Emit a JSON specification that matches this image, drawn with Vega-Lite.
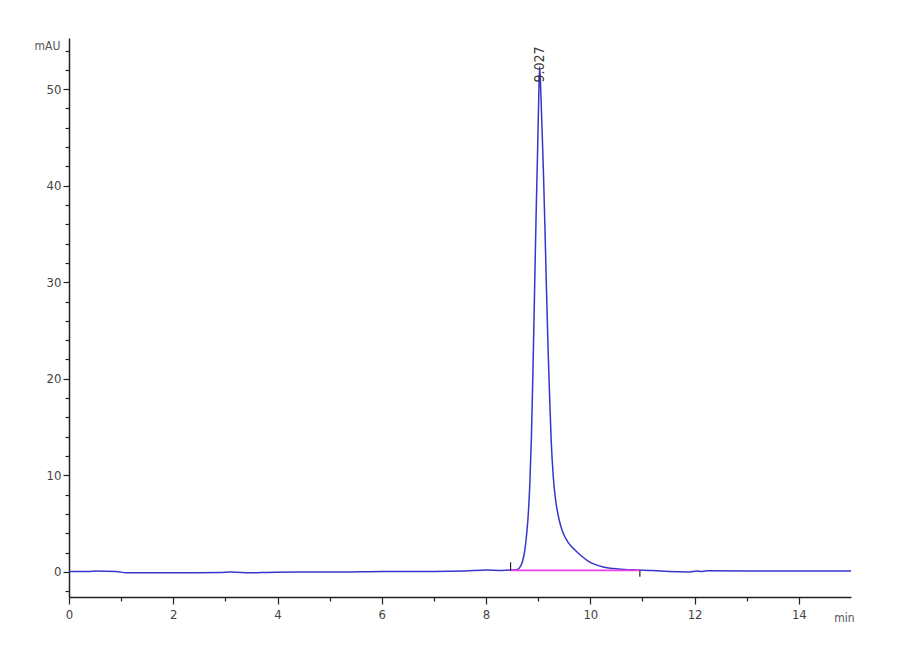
{
  "$schema": "https://vega.github.io/schema/vega-lite/v6.json",
  "autosize": "none",
  "width": 782,
  "height": 559,
  "padding": {"left": 69, "top": 38, "right": 49, "bottom": 63},
  "background": "white",
  "config": {
    "view": {"stroke": null},
    "font": "Liberation Sans Narrow, DejaVu Sans Condensed, sans-serif",
    "axis": {
      "grid": false,
      "domainColor": "#222",
      "domainWidth": 1.5,
      "tickColor": "#222",
      "tickWidth": 1.2,
      "labelFont": "Liberation Sans Narrow, DejaVu Sans Condensed, sans-serif",
      "labelFontSize": 13,
      "labelColor": "#444",
      "labelOverlap": false,
      "labelFlush": false,
      "titleFont": "Liberation Sans Narrow, DejaVu Sans Condensed, sans-serif",
      "titleFontSize": 12,
      "titleFontWeight": "normal",
      "titleColor": "#555"
    }
  },
  "datasets": {
    "signal": [
      {"t": 0.0, "mAU": 0.05}, {"t": 0.4, "mAU": 0.05}, {"t": 0.5, "mAU": 0.1}, {"t": 0.9, "mAU": 0.05},
      {"t": 1.1, "mAU": -0.1}, {"t": 2.0, "mAU": -0.1}, {"t": 2.9, "mAU": -0.05}, {"t": 3.1, "mAU": 0.0},
      {"t": 3.5, "mAU": -0.1}, {"t": 3.8, "mAU": -0.05}, {"t": 4.4, "mAU": 0.0}, {"t": 5.2, "mAU": 0.0},
      {"t": 6.0, "mAU": 0.05}, {"t": 7.0, "mAU": 0.05}, {"t": 7.6, "mAU": 0.1}, {"t": 8.0, "mAU": 0.2},
      {"t": 8.3, "mAU": 0.15}, {"t": 8.5, "mAU": 0.2}, {"t": 8.6, "mAU": 0.25}, {"t": 8.65, "mAU": 0.5},
      {"t": 8.7, "mAU": 1.1}, {"t": 8.745, "mAU": 2.3}, {"t": 8.78, "mAU": 4.0}, {"t": 8.81, "mAU": 6.0},
      {"t": 8.84, "mAU": 9.2}, {"t": 8.87, "mAU": 14.0}, {"t": 8.9, "mAU": 21.0}, {"t": 8.93, "mAU": 29.0},
      {"t": 8.96, "mAU": 37.0}, {"t": 8.99, "mAU": 44.0}, {"t": 9.01, "mAU": 49.0}, {"t": 9.027, "mAU": 52.3},
      {"t": 9.045, "mAU": 50.5}, {"t": 9.07, "mAU": 46.5}, {"t": 9.1, "mAU": 41.5}, {"t": 9.13, "mAU": 35.5},
      {"t": 9.16, "mAU": 29.0}, {"t": 9.19, "mAU": 23.0}, {"t": 9.22, "mAU": 18.0}, {"t": 9.25, "mAU": 13.5},
      {"t": 9.29, "mAU": 9.8}, {"t": 9.33, "mAU": 7.6}, {"t": 9.385, "mAU": 5.8}, {"t": 9.43, "mAU": 4.8},
      {"t": 9.48, "mAU": 4.0}, {"t": 9.58, "mAU": 3.0}, {"t": 9.7, "mAU": 2.3}, {"t": 9.82, "mAU": 1.7},
      {"t": 9.95, "mAU": 1.15}, {"t": 10.1, "mAU": 0.75}, {"t": 10.25, "mAU": 0.5}, {"t": 10.45, "mAU": 0.34},
      {"t": 10.65, "mAU": 0.25}, {"t": 10.9, "mAU": 0.2}, {"t": 11.2, "mAU": 0.15}, {"t": 11.5, "mAU": 0.05},
      {"t": 11.9, "mAU": 0.0}, {"t": 12.05, "mAU": 0.1}, {"t": 12.15, "mAU": 0.05}, {"t": 12.25, "mAU": 0.12},
      {"t": 13.0, "mAU": 0.1}, {"t": 14.0, "mAU": 0.1}, {"t": 15.0, "mAU": 0.1}
    ],
    "baseline": [
      {"t": 8.47, "mAU": 0.15},
      {"t": 10.95, "mAU": 0.15}
    ],
    "markers": [
      {"t": 8.47, "lo": 0.15, "hi": 1.0},
      {"t": 10.95, "lo": -0.5, "hi": 0.15}
    ],
    "peaks": [
      {"t": 9.027, "mAU": 50.7, "label": "9.027"}
    ]
  },
  "layer": [
    {
      "data": {"name": "signal"},
      "mark": {"type": "line", "color": "#3636cc", "strokeWidth": 1.5, "interpolate": "monotone"},
      "encoding": {
        "x": {
          "field": "t", "type": "quantitative",
          "scale": {"domain": [0, 15], "nice": false, "zero": false},
          "axis": {
            "values": [0, 0.5, 1, 1.5, 2, 2.5, 3, 3.5, 4, 4.5, 5, 5.5, 6, 6.5, 7, 7.5, 8, 8.5, 9, 9.5, 10, 10.5, 11, 11.5, 12, 12.5, 13, 13.5, 14, 14.5],
            "tickCount": 200,
            "format": "d",
            "labelExpr": "datum.value % 2 == 0 ? datum.label : ''",
            "tickSize": {"condition": {"test": "datum.value % 2 == 0", "value": 7}, "value": 4},
            "labelPadding": 4,
            "title": "min",
            "titleAngle": 0,
            "titleX": 775,
            "titleY": 20,
            "titleAlign": "center",
            "titleBaseline": "middle"
          }
        },
        "y": {
          "field": "mAU", "type": "quantitative",
          "scale": {"domain": [-2.6, 55.3], "nice": false, "zero": false},
          "axis": {
            "values": [-2, 0, 2, 4, 6, 8, 10, 12, 14, 16, 18, 20, 22, 24, 26, 28, 30, 32, 34, 36, 38, 40, 42, 44, 46, 48, 50, 52, 54],
            "tickCount": 200,
            "format": "d",
            "labelExpr": "datum.value % 10 == 0 ? datum.label : ''",
            "tickSize": {"condition": {"test": "datum.value % 10 == 0", "value": 6}, "value": 4},
            "labelPadding": 2,
            "title": "mAU",
            "titleAngle": 0,
            "titleX": -22,
            "titleY": 7,
            "titleAlign": "center",
            "titleBaseline": "middle"
          }
        }
      }
    },
    {
      "data": {"name": "baseline"},
      "mark": {"type": "line", "color": "#f040e8", "strokeWidth": 1.8},
      "encoding": {
        "x": {"field": "t", "type": "quantitative"},
        "y": {"field": "mAU", "type": "quantitative"}
      }
    },
    {
      "data": {"name": "markers"},
      "mark": {"type": "rule", "color": "#222", "strokeWidth": 1.2},
      "encoding": {
        "x": {"field": "t", "type": "quantitative"},
        "y": {"field": "lo", "type": "quantitative"},
        "y2": {"field": "hi"}
      }
    },
    {
      "data": {"name": "peaks"},
      "mark": {"type": "text", "angle": 270, "align": "left", "baseline": "middle", "fontSize": 14, "color": "#333", "font": "Liberation Sans Narrow, DejaVu Sans Condensed, sans-serif"},
      "encoding": {
        "x": {"field": "t", "type": "quantitative"},
        "y": {"field": "mAU", "type": "quantitative"},
        "text": {"field": "label"}
      }
    }
  ]
}
